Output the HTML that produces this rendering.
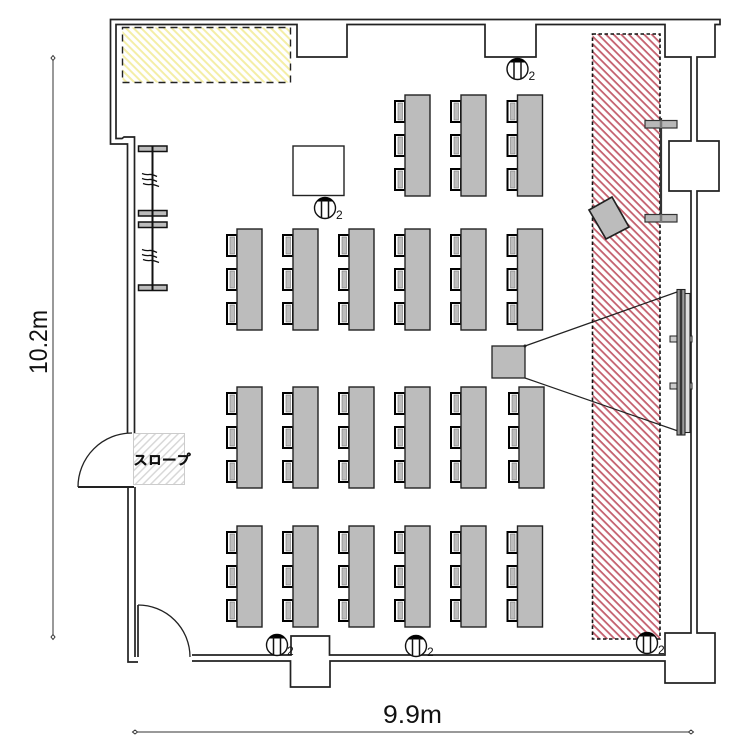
<!DOCTYPE html>
<html>
<head>
<meta charset="utf-8">
<style>
html,body{margin:0;padding:0;background:#fff;width:750px;height:750px;overflow:hidden}
svg{display:block}
text{font-family:"Liberation Sans","IPAGothic","Noto Sans CJK JP",sans-serif;fill:#111}
</style>
</head>
<body>
<svg width="750" height="750" viewBox="0 0 750 750" xmlns="http://www.w3.org/2000/svg">
<defs>
<pattern id="red" width="5.400" height="5.400" patternUnits="userSpaceOnUse" patternTransform="rotate(45)">
<rect width="5.400" height="5.400" fill="#fff"/><rect width="5.400" height="1.800" fill="#c4606e"/>
</pattern>
<pattern id="yel" width="5.400" height="5.400" patternUnits="userSpaceOnUse" patternTransform="rotate(45)">
<rect width="5.400" height="5.400" fill="#fff"/><rect width="5.400" height="2" fill="#f4eea6"/>
</pattern>
<pattern id="gry" width="5.400" height="5.400" patternUnits="userSpaceOnUse" patternTransform="rotate(-45)">
<rect width="5.400" height="5.400" fill="#fff"/><rect width="5.400" height="1.500" fill="#d8d8d8"/>
</pattern>
<g id="c">
<rect x="-10" y="0" width="10" height="21" fill="#fff" stroke="#000" stroke-width="2"/>
<rect x="-7" y="2" width="4.500" height="17" fill="#bdbdbd" stroke="#777" stroke-width="0.600"/>
</g>
<g id="t">
<use href="#c" y="6"/><use href="#c" y="40"/><use href="#c" y="74"/>
<rect x="0" y="0" width="25" height="101" fill="#bcbcbc" stroke="#222" stroke-width="1.400"/>
</g>
<g id="o">
<circle cx="0" cy="0" r="10.500" fill="#fff" stroke="#111" stroke-width="1.400"/>
<path d="M-8.500 -6.500 A10.500 10.500 0 0 1 8.500 -6.500 Z" fill="#000"/>
<path d="M-3.500 -8V10M3.500 -8V10" stroke="#111" stroke-width="1.500" fill="none"/>
</g>
<g id="b">
<path d="M-10 -4.500 Q-6 -3 -3 -3.500 T5 -1.500M-10 .5 Q-6 2 -3 1.500 T5 3.500" fill="none" stroke="#111" stroke-width="1.300"/>
<path d="M-9 5.500 Q-5 7 -2 6.500 T7 8.500" fill="none" stroke="#111" stroke-width="1.300"/>
</g>
</defs>

<!-- hatched zones -->
<rect x="122.500" y="27.500" width="168" height="55" fill="url(#yel)" stroke="#222" stroke-width="1.400" stroke-dasharray="7 5"/>
<rect x="592.500" y="34" width="67.500" height="605" fill="url(#red)" stroke="#111" stroke-width="1.600" stroke-dasharray="3.500 2.500"/>
<rect x="133.500" y="433.500" width="51" height="51" fill="url(#gry)" stroke="#ccc" stroke-width="1"/>

<!-- walls -->
<g fill="none" stroke="#222" stroke-width="1.700">
<path d="M127.500 433V144H110.500V19.500H720V24.500H715V57H697V141H719V191H697V633H715V683H665V661H330V687H290.500V661H192"/>
<path d="M134.500 433V137H124L122 138.500H116V24.500H297V57H347V24.500H485V57H536V24.500H665V57H691V141H669V191H691V633H665V655H329.500V636H291V655H192"/>
<path d="M128 487V662H138M135 487V657M138 605V657"/>
<path d="M78 487H134" stroke-width="2"/>
<path d="M132 433A54 54 0 0 0 78 487" stroke-width="1.300"/>
<path d="M138 605A52 52 0 0 1 190 657" stroke-width="1.300"/>
</g>

<!-- tables -->
<use href="#t" x="405" y="95"/><use href="#t" x="461" y="95"/><use href="#t" x="517.500" y="95"/>
<use href="#t" x="237" y="229"/><use href="#t" x="293" y="229"/><use href="#t" x="349" y="229"/><use href="#t" x="405" y="229"/><use href="#t" x="461" y="229"/><use href="#t" x="517.500" y="229"/>
<use href="#t" x="237" y="387"/><use href="#t" x="293" y="387"/><use href="#t" x="349" y="387"/><use href="#t" x="405" y="387"/><use href="#t" x="461" y="387"/><use href="#t" x="519" y="387"/>
<use href="#t" x="237" y="526"/><use href="#t" x="293" y="526"/><use href="#t" x="349" y="526"/><use href="#t" x="405" y="526"/><use href="#t" x="461" y="526"/><use href="#t" x="517.500" y="526"/>

<!-- white table -->
<rect x="293" y="146" width="51" height="49.500" fill="#fff" stroke="#222" stroke-width="1.400"/>

<!-- left partitions -->
<g stroke="#111">
<rect x="138.500" y="146" width="28.500" height="5.500" fill="#bcbcbc" stroke-width="1.500"/>
<rect x="138.500" y="210.500" width="28.500" height="5.500" fill="#bcbcbc" stroke-width="1.500"/>
<rect x="138.500" y="222" width="28.500" height="5.500" fill="#bcbcbc" stroke-width="1.500"/>
<rect x="138.500" y="285" width="28.500" height="5.500" fill="#bcbcbc" stroke-width="1.500"/>
<path d="M152.500 146V291" stroke-width="2" fill="none"/>
</g>
<use href="#b" x="152" y="178"/><use href="#b" x="152" y="254"/>

<!-- right partition -->
<path d="M661 118V222" stroke="#333" stroke-width="2.200"/>
<rect x="645" y="120.500" width="32" height="7.500" fill="#b8b8b8" stroke="#333" stroke-width="1.200"/>
<rect x="645" y="214.500" width="32" height="7.500" fill="#b8b8b8" stroke="#333" stroke-width="1.200"/>
<path d="M661 120.500V128M661 214.500V222" stroke="#777" stroke-width="2.500"/>

<!-- rotated box -->
<polygon points="589,210 612,197 629,227 606,239" fill="#bcbcbc" stroke="#222" stroke-width="1.700"/>

<!-- projector and beam -->
<path d="M525 346L677 292M525 378L678 431" stroke="#222" stroke-width="1.200" fill="none"/>
<rect x="492" y="346" width="33" height="32" fill="#bcbcbc" stroke="#222" stroke-width="1.300"/>
<circle cx="525" cy="346" r="1.500" fill="#222"/>

<!-- screen -->
<rect x="670" y="336" width="7" height="6" fill="#ccc" stroke="#222" stroke-width="1"/>
<rect x="670" y="383" width="7" height="6" fill="#ccc" stroke="#222" stroke-width="1"/>
<rect x="689" y="336" width="3" height="6" fill="#ccc" stroke="#222" stroke-width="1"/>
<rect x="689" y="383" width="3" height="6" fill="#ccc" stroke="#222" stroke-width="1"/>
<rect x="684" y="293.500" width="6" height="139" fill="#ddd" stroke="#222" stroke-width="1.100"/>
<rect x="677" y="289.500" width="8" height="145.500" fill="#9a9a9a" stroke="#222" stroke-width="1.100"/>
<path d="M681 290V435" stroke="#333" stroke-width="2.500"/>

<!-- outlets -->
<use href="#o" x="325" y="208"/><text x="336" y="219" font-size="12">2</text>
<use href="#o" x="517.500" y="69"/><text x="528.500" y="80" font-size="12">2</text>
<use href="#o" x="277" y="645"/><text x="287" y="655" font-size="12">2</text>
<use href="#o" x="416" y="646"/><text x="427" y="656" font-size="12">2</text>
<use href="#o" x="647" y="643"/><text x="658" y="654" font-size="12">2</text>

<!-- labels -->
<text x="133.500" y="465" font-size="14" font-weight="bold" stroke="#111" stroke-width="0.400" textLength="57" lengthAdjust="spacingAndGlyphs">スロープ</text>

<!-- dimensions -->
<path d="M53 58V637" stroke="#333" stroke-width="1"/>
<path d="M53 55.500l2 2.500l-2 2.500l-2-2.500zM53 634.500l2 2.500l-2 2.500l-2-2.500z" fill="#fff" stroke="#333" stroke-width="1"/>
<path d="M135 732H691" stroke="#333" stroke-width="1"/>
<path d="M132.500 732l2.500-2l2.500 2l-2.500 2zM688.500 732l2.500-2l2.500 2l-2.500 2z" fill="#fff" stroke="#333" stroke-width="1"/>
<text x="383" y="723" font-size="25" textLength="59" lengthAdjust="spacingAndGlyphs">9.9m</text>
<text transform="translate(47,374) rotate(-90)" font-size="25" textLength="64" lengthAdjust="spacingAndGlyphs">10.2m</text>
</svg>
</body>
</html>
